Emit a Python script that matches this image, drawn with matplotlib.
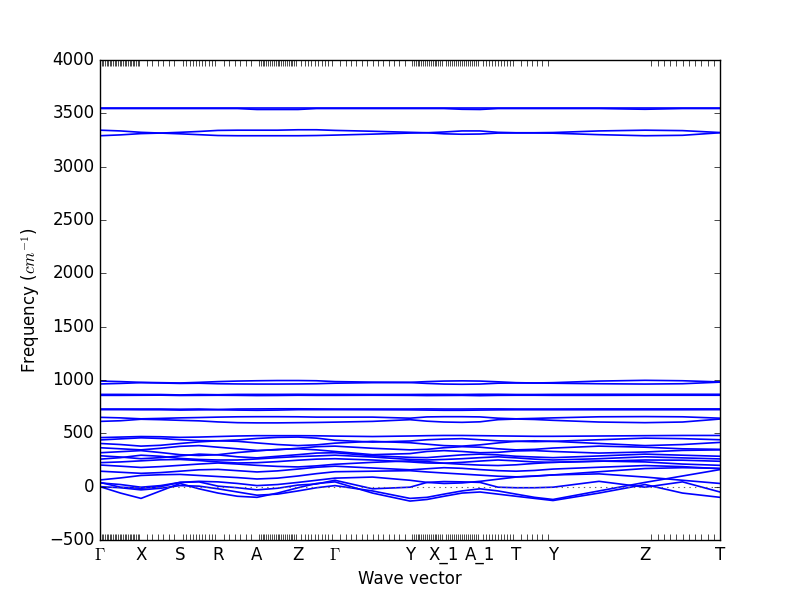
import numpy as np
import matplotlib
matplotlib.use("Agg")
import matplotlib.pyplot as plt

# high-symmetry path
hs_labels = [r"$\Gamma$", "X", "S", "R", "A", "Z", r"$\Gamma$", "Y", "X_1", "A_1", "T", "Y", "Z", "T"]
hs_pos = [0, 0.41, 0.80, 1.18, 1.57, 1.98, 2.35, 3.10, 3.44, 3.80, 4.16, 4.53, 5.45, 6.20]
# number of q-points per segment (shown as minor ticks)
seg_npts = [25, 7, 12, 7, 22, 11, 14, 18, 18, 12, 7, 0, 12]

# q positions where band values were read
q_pos = [0, 0.205, 0.41, 0.605, 0.80, 0.99, 1.18, 1.375, 1.57, 1.775, 1.98, 2.165, 2.35,
         2.725, 3.10, 3.27, 3.44, 3.62, 3.80, 3.98, 4.16, 4.345, 4.53, 4.99, 5.45, 5.825, 6.20]

# ~3545 cm-1
bands_oh = [
    [3548, 3548, 3548, 3548, 3548, 3548, 3548, 3548, 3548, 3548, 3548, 3548, 3548,
     3548, 3548, 3548, 3548, 3548, 3548, 3548, 3548, 3548, 3548, 3548, 3548, 3548, 3548],
    [3545, 3545, 3545, 3545, 3545, 3545, 3545, 3545, 3536, 3536, 3536, 3545, 3545,
     3545, 3545, 3545, 3545, 3538, 3536, 3545, 3545, 3545, 3545, 3545, 3538, 3545, 3545],
]
# ~3300 cm-1
bands_nh = [
    [3342, 3335, 3322, 3315, 3322, 3330, 3340, 3342, 3342, 3342, 3346, 3346, 3340,
     3332, 3322, 3318, 3325, 3335, 3335, 3322, 3318, 3318, 3320, 3335, 3342, 3338, 3320],
    [3290, 3298, 3310, 3315, 3308, 3300, 3292, 3290, 3290, 3290, 3290, 3292, 3296,
     3305, 3315, 3318, 3308, 3304, 3306, 3315, 3316, 3316, 3314, 3300, 3290, 3294, 3318],
]
# ~1000 cm-1
bands_1000 = [
    [990, 985, 978, 975, 972, 978, 985, 990, 993, 995, 995, 993, 985,
     980, 978, 985, 990, 992, 990, 983, 975, 972, 975, 990, 997, 993, 982],
    [963, 968, 975, 972, 968, 970, 965, 963, 962, 962, 963, 965, 970,
     975, 976, 968, 962, 960, 962, 970, 972, 972, 970, 965, 962, 965, 980],
]
# ~860 cm-1
bands_860 = [
    [865, 865, 864, 864, 860, 864, 862, 865, 865, 865, 866, 865, 865,
     864, 864, 865, 865, 864, 866, 866, 864, 864, 865, 866, 866, 866, 866],
    [856, 856, 857, 858, 855, 856, 857, 856, 854, 855, 857, 856, 856,
     857, 856, 854, 855, 856, 853, 856, 857, 857, 856, 856, 857, 857, 857],
]
# ~720 cm-1
bands_720 = [
    [728, 728, 728, 728, 726, 728, 724, 728, 729, 730, 730, 729, 728,
     728, 728, 729, 728, 728, 729, 729, 728, 728, 728, 729, 729, 729, 729],
    [722, 722, 721, 721, 718, 720, 721, 718, 716, 718, 722, 722, 722,
     721, 720, 718, 716, 716, 718, 720, 721, 721, 721, 721, 721, 721, 722],
]
# ~630 cm-1
bands_630 = [
    [650, 645, 636, 640, 645, 648, 652, 655, 656, 656, 655, 652, 652,
     652, 642, 654, 656, 656, 654, 642, 636, 640, 645, 655, 657, 655, 642],
    [612, 618, 632, 628, 622, 617, 607, 600, 598, 598, 600, 602, 605,
     612, 628, 614, 606, 603, 608, 628, 634, 630, 622, 606, 600, 606, 634],
]
# 0 - 500 cm-1
bands_low = [
    [460, 465, 470, 468, 462, 465, 470, 475, 478, 478, 478, 477, 474,
     470, 475, 478, 480, 480, 478, 476, 474, 472, 472, 475, 478, 480, 480],
    [438, 448, 458, 452, 440, 432, 430, 438, 452, 462, 465, 455, 435,
     418, 428, 440, 446, 450, 440, 430, 425, 422, 425, 440, 455, 450, 440],
    [405, 395, 380, 388, 405, 420, 430, 425, 410, 395, 385, 392, 408,
     425, 412, 398, 385, 380, 392, 410, 425, 430, 425, 405, 385, 395, 415],
    [365, 355, 345, 360, 378, 385, 370, 355, 340, 345, 360, 375, 380,
     360, 345, 350, 365, 375, 370, 355, 345, 350, 362, 380, 370, 355, 350],
    [318, 328, 338, 320, 300, 292, 300, 320, 335, 350, 355, 345, 330,
     300, 310, 330, 338, 330, 318, 322, 335, 338, 330, 315, 325, 340, 345],
    [290, 278, 262, 272, 288, 305, 298, 280, 270, 285, 300, 315, 318,
     290, 275, 272, 285, 298, 305, 298, 285, 278, 272, 288, 305, 295, 285],
    [258, 272, 295, 285, 265, 255, 250, 250, 260, 272, 282, 288, 295,
     278, 255, 250, 255, 262, 272, 280, 270, 258, 250, 262, 280, 270, 260],
    [225, 232, 242, 252, 255, 245, 232, 222, 225, 235, 248, 258, 262,
     250, 232, 222, 220, 228, 240, 250, 242, 232, 228, 238, 250, 248, 238],
    [203, 192, 180, 188, 200, 212, 222, 212, 200, 190, 185, 195, 210,
     228, 242, 235, 220, 210, 202, 198, 205, 218, 228, 240, 232, 212, 200],
    [145, 135, 125, 132, 145, 158, 162, 150, 138, 148, 165, 182, 192,
     175, 158, 168, 178, 172, 160, 150, 145, 152, 165, 182, 198, 188, 168],
    [63, 82, 105, 112, 115, 105, 95, 85, 72, 80, 100, 122, 140,
     145, 150, 138, 128, 118, 108, 98, 92, 98, 110, 140, 170, 178, 172],
    [35, 20, -5, 10, 40, 50, 45, 30, 10, 20, 40, 60, 80,
     90, 60, 40, 30, 35, 50, 70, 90, 100, 110, 120, 90, 60, 30],
    [0, -60, -110, -40, 30, -20, -60, -90, -100, -60, -10, 30, 45,
     -60, -135, -120, -90, -60, -50, -70, -90, -110, -130, -60, 20, -60, -100],
    [0, -10, -30, -15, 10, 5, -20, -50, -80, -70, -40, -10, 10,
     -40, -110, -100, -70, -40, -20, -40, -70, -100, -120, -40, 40, 100, 160],
    [40, -5, -15, 0, 40, 45, 5, -10, -30, -15, 15, 25, 60,
     -20, -5, 40, 48, 45, 40, -5, -10, -10, -5, 50, -5, 45, -50],
]

plt.style.use("classic")
fig, ax = plt.subplots(figsize=(8, 6), dpi=100)

for group in [bands_oh, bands_nh, bands_1000, bands_860, bands_720, bands_630, bands_low]:
    for b in group:
        ax.plot(q_pos, b, "b-", lw=1.2)

ax.axhline(0, color="0.4", ls=":", lw=0.8)

ax.set_xlim(hs_pos[0], hs_pos[-1])
ax.set_ylim(-500, 4000)
ax.set_xticks(hs_pos)
ax.set_xticklabels(hs_labels)

minor = []
for i, n in enumerate(seg_npts):
    if n > 0:
        minor.extend(np.linspace(hs_pos[i], hs_pos[i + 1], n + 1)[1:-1])
ax.set_xticks(minor, minor=True)
ax.tick_params(axis="x", which="major", length=0)
ax.tick_params(axis="x", which="minor", length=4)

ax.set_xlabel("Wave vector")
ax.set_ylabel(r"Frequency ($cm^{-1}$)")

fig.savefig("out.png", dpi=100)
